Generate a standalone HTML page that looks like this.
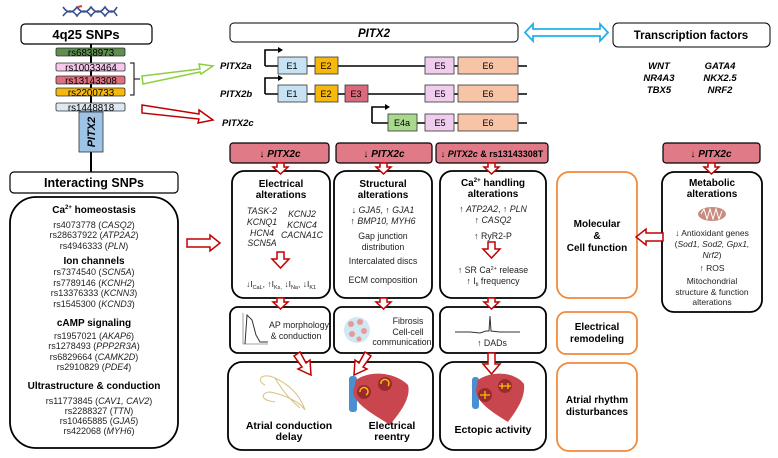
<!DOCTYPE html>
<html><head><meta charset="utf-8"><style>
html,body{margin:0;padding:0;background:#fff;}
svg{display:block;font-family:"Liberation Sans",Arial,sans-serif;}
.b{font-weight:bold}
.i{font-style:italic}
</style></head><body>
<svg width="778" height="458" viewBox="0 0 778 458" xmlns="http://www.w3.org/2000/svg">
<!-- DNA icon -->
<g stroke="#3a4f8f" stroke-width="1.6" fill="none">
<path d="M63,7 Q70,17 77,7 Q84,17 91,7 Q98,17 105,7 Q112,17 117,7"/>
<path d="M63,16 Q70,6 77,16 Q84,6 91,16 Q98,6 105,16 Q112,6 117,16"/>
</g>
<path d="M78,7 L82,6" stroke="#e04020" stroke-width="2"/>

<line x1="91" y1="44" x2="91" y2="172" stroke="#000" stroke-width="2"/>
<rect x="21" y="24" width="131" height="20" rx="4" fill="#fff" stroke="#000" stroke-width="1.2"/>
<text x="86" y="39" font-size="13" class="b" text-anchor="middle">4q25 SNPs</text>

<g font-size="9.8" text-anchor="middle" stroke="#333" stroke-width="0.8">
<rect x="56" y="48" width="69" height="8" rx="1.5" fill="#5e8f4e"/>
<rect x="56" y="63" width="69" height="8" rx="1.5" fill="#f4c9ec"/>
<rect x="56" y="76" width="69" height="8" rx="1.5" fill="#de6f7e"/>
<rect x="56" y="88" width="69" height="8" rx="1.5" fill="#f6b80a"/>
<rect x="56" y="103" width="69" height="8" rx="1.5" fill="#dce8f3"/>
</g>
<g font-size="9.8" text-anchor="middle">
<text x="91" y="56">rs6838973</text>
<text x="91" y="71">rs10033464</text>
<text x="91" y="84">rs13143308</text>
<text x="91" y="96">rs2200733</text>
<text x="91" y="111">rs1448818</text>
</g>
<rect x="79" y="112" width="24" height="40" fill="#9dc3e6" stroke="#333" stroke-width="0.8"/>
<text transform="translate(95,132) rotate(-90)" font-size="11" class="b i" text-anchor="middle">PITX2</text>
<path d="M130,63 L134,63 L134,95 L130,95 M134,79 L140,79" stroke="#000" stroke-width="1" fill="none"/>
<path d="M142,76 L200,69 L199,64 L213,66 L201,74 L200,72 L143,84 Z" fill="#fff" stroke="#8ccf3e" stroke-width="1.5"/>
<path d="M142,105 L199,114 L199,110 L213,120 L198,123 L199,119 L142,113 Z" fill="#fff" stroke="#c00000" stroke-width="1.5"/>

<rect x="10" y="172" width="168" height="21" rx="4" fill="#fff" stroke="#000" stroke-width="1.2"/>
<text x="94" y="187" font-size="12.5" class="b" text-anchor="middle">Interacting SNPs</text>
<rect x="10" y="197" width="168" height="251" rx="26" fill="#fff" stroke="#000" stroke-width="1.8"/>
<g font-size="9" text-anchor="middle" fill="#222">
<text x="94" y="213" class="b" font-size="10" fill="#000">Ca<tspan font-size="6" dy="-4">2+</tspan><tspan dy="4"> homeostasis</tspan></text>
<text x="94" y="228">rs4073778 (<tspan class="i">CASQ2</tspan>)</text>
<text x="94" y="238">rs28637922 (<tspan class="i">ATP2A2</tspan>)</text>
<text x="94" y="249">rs4946333 (<tspan class="i">PLN</tspan>)</text>
<text x="94" y="264" class="b" font-size="10" fill="#000">Ion channels</text>
<text x="94" y="275">rs7374540 (<tspan class="i">SCN5A</tspan>)</text>
<text x="94" y="286">rs7789146 (<tspan class="i">KCNH2</tspan>)</text>
<text x="94" y="296">rs13376333 (<tspan class="i">KCNN3</tspan>)</text>
<text x="94" y="307">rs1545300 (<tspan class="i">KCND3</tspan>)</text>
<text x="94" y="326" class="b" font-size="10" fill="#000">cAMP signaling</text>
<text x="94" y="339">rs1957021 (<tspan class="i">AKAP6</tspan>)</text>
<text x="94" y="349">rs1278493 (<tspan class="i">PPP2R3A</tspan>)</text>
<text x="94" y="360">rs6829664 (<tspan class="i">CAMK2D</tspan>)</text>
<text x="94" y="370">rs2910829 (<tspan class="i">PDE4</tspan>)</text>
<text x="94" y="389" class="b" font-size="10" fill="#000">Ultrastructure &amp; conduction</text>
<text x="99" y="404">rs11773845 (<tspan class="i">CAV1, CAV2</tspan>)</text>
<text x="99" y="414">rs2288327 (<tspan class="i">TTN</tspan>)</text>
<text x="99" y="424">rs10465885 (<tspan class="i">GJA5</tspan>)</text>
<text x="99" y="434">rs422068 (<tspan class="i">MYH6</tspan>)</text>
</g>
<path d="M187,239 L210,239 L210,235 L220,243 L210,251 L210,247 L187,247 Z" fill="#fff" stroke="#c00000" stroke-width="1.5"/>

<rect x="230" y="23" width="288" height="19" rx="4" fill="#fff" stroke="#000" stroke-width="1"/>
<text x="374" y="37" font-size="11.5" class="b i" text-anchor="middle">PITX2</text>
<path d="M525,32.5 L533,24 L533,29 L600,29 L600,24 L608,32.5 L600,41 L600,36 L533,36 L533,41 Z" fill="#fff" stroke="#1fb0ee" stroke-width="1.8"/>
<rect x="613" y="23" width="157" height="24" rx="5" fill="#fff" stroke="#000" stroke-width="1"/>
<text x="691" y="39" font-size="11.5" class="b" text-anchor="middle">Transcription factors</text>
<g font-size="9.5" class="b i" text-anchor="middle">
<text x="659" y="69">WNT</text><text x="720" y="69">GATA4</text>
<text x="659" y="81">NR4A3</text><text x="720" y="81">NKX2.5</text>
<text x="659" y="93">TBX5</text><text x="720" y="93">NRF2</text>
</g>

<g font-size="9.5" class="b i"><text x="220" y="69">PITX2a</text><text x="220" y="97">PITX2b</text><text x="222" y="126">PITX2c</text></g>
<g stroke="#000" stroke-width="1.6" fill="none">
<line x1="265" y1="66" x2="527" y2="66"/><line x1="265" y1="94" x2="527" y2="94"/><line x1="372" y1="123" x2="527" y2="123"/>
<path d="M265,66 L265,50 L278,50"/><path d="M265,94 L265,78 L278,78"/><path d="M372,123 L372,107 L385,107"/>
</g>
<g fill="#000"><path d="M278,47 L283,50 L278,53Z"/><path d="M278,75 L283,78 L278,81Z"/><path d="M385,104 L390,107 L385,110Z"/></g>
<g stroke="#333" stroke-width="0.8">
<rect x="278" y="57" width="29" height="17" fill="#c6e2f4"/><rect x="315" y="57" width="23" height="17" fill="#f6b80a"/>
<rect x="425" y="57" width="29" height="17" fill="#f0cdee"/><rect x="458" y="57" width="60" height="17" fill="#f7c4a7"/>
<rect x="278" y="85" width="29" height="17" fill="#c6e2f4"/><rect x="315" y="85" width="23" height="17" fill="#f6b80a"/>
<rect x="345" y="85" width="23" height="17" fill="#d9697b"/>
<rect x="425" y="85" width="29" height="17" fill="#f0cdee"/><rect x="458" y="85" width="60" height="17" fill="#f7c4a7"/>
<rect x="388" y="114" width="29" height="17" fill="#a9d98f"/>
<rect x="425" y="114" width="29" height="17" fill="#f0cdee"/><rect x="458" y="114" width="60" height="17" fill="#f7c4a7"/>
</g>
<g font-size="9" text-anchor="middle">
<text x="292" y="69">E1</text><text x="326" y="69">E2</text><text x="440" y="69">E5</text><text x="488" y="69">E6</text>
<text x="292" y="97">E1</text><text x="326" y="97">E2</text><text x="356" y="97">E3</text><text x="440" y="97">E5</text><text x="488" y="97">E6</text>
<text x="402" y="126">E4a</text><text x="440" y="126">E5</text><text x="488" y="126">E6</text>
</g>

<g fill="#e07a86" stroke="#000" stroke-width="1.2">
<rect x="230" y="143" width="99" height="20" rx="3"/><rect x="336" y="143" width="96" height="20" rx="3"/>
<rect x="436" y="143" width="112" height="20" rx="3"/><rect x="663" y="143" width="97" height="20" rx="3"/>
</g>
<g font-size="10" class="b" text-anchor="middle">
<text x="280" y="157">↓ <tspan class="i">PITX2c</tspan></text>
<text x="384" y="157">↓ <tspan class="i">PITX2c</tspan></text>
<text x="492" y="157" font-size="9">↓ <tspan class="i">PITX2c</tspan> &amp; rs13143308T</text>
<text x="711" y="157">↓ <tspan class="i">PITX2c</tspan></text>
</g>

<g fill="#fff" stroke="#000" stroke-width="1.8">
<rect x="232" y="171" width="98" height="127" rx="12"/>
<rect x="334" y="171" width="98" height="127" rx="12"/>
<rect x="440" y="171" width="106" height="127" rx="12"/>
<rect x="662" y="172" width="100" height="140" rx="12"/>
<rect x="230" y="307" width="100" height="46" rx="8"/>
<rect x="334" y="307" width="99" height="46" rx="8"/>
<rect x="440" y="307" width="106" height="46" rx="8"/>
<rect x="228" y="362" width="205" height="88" rx="14"/>
<rect x="440" y="362" width="106" height="88" rx="14"/>
</g>
<g fill="#fff" stroke="#f08a3c" stroke-width="1.8">
<rect x="557" y="172" width="80" height="126" rx="12"/>
<rect x="557" y="312" width="80" height="42" rx="9"/>
<rect x="557" y="363" width="80" height="88" rx="12"/>
</g>
<g font-size="10" class="b" text-anchor="middle">
<text x="597" y="227">Molecular</text><text x="597" y="239">&amp;</text><text x="597" y="251">Cell function</text>
<text x="597" y="330">Electrical</text><text x="597" y="342">remodeling</text>
<text x="597" y="403">Atrial rhythm</text><text x="597" y="415">disturbances</text>
</g>

<g fill="#fff" stroke="#c00000" stroke-width="1.5">
<path d="M277,163 L284,163 L284,167 L288,167 L280.5,174 L273,167 L277,167 Z"/>
<path d="M380,163 L387,163 L387,167 L391,167 L383.5,174 L376,167 L380,167 Z"/>
<path d="M488,163 L495,163 L495,167 L499,167 L491.5,174 L484,167 L488,167 Z"/>
<path d="M708,163 L715,163 L715,167 L719,167 L711.5,174 L704,167 L708,167 Z"/>
<path d="M277,252 L284,252 L284,259 L289,259 L280.5,268 L272,259 L277,259 Z"/>
<path d="M488,242 L495,242 L495,249 L500,249 L491.5,258 L483,249 L488,249 Z"/>
<path d="M277,298 L284,298 L284,302 L288,302 L280.5,309 L273,302 L277,302 Z"/>
<path d="M380,298 L387,298 L387,302 L391,302 L383.5,309 L376,302 L380,302 Z"/>
<path d="M488,298 L495,298 L495,302 L499,302 L491.5,309 L484,302 L488,302 Z"/>
<path d="M294,356 L300,352 L306,363 L310,360 L311,375 L298,369 L302,367 Z"/>
<path d="M365,352 L371,356 L363,367 L367,369 L354,375 L355,360 L359,363 Z"/>
<path d="M488,353 L495,353 L495,364 L500,364 L491.5,374 L483,364 L488,364 Z"/>
<path d="M663,233 L646,233 L646,229 L636,237 L646,245 L646,241 L663,241 Z"/>
</g>

<g font-size="10" class="b" text-anchor="middle">
<text x="281" y="187">Electrical</text><text x="281" y="198">alterations</text>
<text x="383" y="187">Structural</text><text x="383" y="198">alterations</text>
<text x="493" y="186">Ca<tspan font-size="6" dy="-4">2+</tspan><tspan dy="4"> handling</tspan></text><text x="493" y="197">alterations</text>
<text x="712" y="186">Metabolic</text><text x="712" y="197">alterations</text>
</g>
<g font-size="8.8" text-anchor="middle" fill="#222">
<g class="i"><text x="262" y="214">TASK-2</text><text x="262" y="225">KCNQ1</text><text x="262" y="236">HCN4</text><text x="262" y="246">SCN5A</text>
<text x="302" y="217">KCNJ2</text><text x="302" y="228">KCNC4</text><text x="302" y="238">CACNA1C</text></g>
<text x="281" y="287" font-size="8.5">↓I<tspan font-size="5.5" dy="2">CaL</tspan><tspan dy="-2">, ↑I</tspan><tspan font-size="5.5" dy="2">Ks,</tspan><tspan dy="-2"> ↓I</tspan><tspan font-size="5.5" dy="2">Na</tspan><tspan dy="-2">, ↓I</tspan><tspan font-size="5.5" dy="2">K1</tspan></text>
<text x="383" y="213">↓ <tspan class="i">GJA5</tspan>, ↑ <tspan class="i">GJA1</tspan></text>
<text x="383" y="224">↑ <tspan class="i">BMP10, MYH6</tspan></text>
<text x="383" y="239">Gap junction</text><text x="383" y="250">distribution</text>
<text x="383" y="264">Intercalated  discs</text><text x="383" y="283">ECM composition</text>
<text x="493" y="212">↑ <tspan class="i">ATP2A2</tspan>, ↑ <tspan class="i">PLN</tspan></text>
<text x="493" y="223">↑ <tspan class="i">CASQ2</tspan></text>
<text x="493" y="239">↑ RyR2-P</text>
<text x="493" y="273">↑ SR Ca<tspan font-size="5.5" dy="-3">2+</tspan><tspan dy="3"> release</tspan></text>
<text x="493" y="284">↑ I<tspan font-size="5.5" dy="2">ti</tspan><tspan dy="-2"> frequency</tspan></text>
<text x="712" y="236" font-size="8.5">↓ Antioxidant genes</text>
<text x="712" y="247" font-size="8.5">(<tspan class="i">Sod1, Sod2, Gpx1,</tspan></text>
<text x="712" y="258" font-size="8.5" class="i">Nrf2<tspan font-style="normal">)</tspan></text>
<text x="712" y="271" font-size="8.5">↑ ROS</text>
<text x="712" y="284" font-size="8.5">Mitochondrial</text>
<text x="712" y="295" font-size="8.5">structure &amp; function</text>
<text x="712" y="305" font-size="8.5">alterations</text>
<text x="299" y="328">AP morphology</text><text x="296" y="339">&amp; conduction</text>
<text x="408" y="324">Fibrosis</text><text x="408" y="335">Cell-cell</text><text x="402" y="345">communication</text>
<text x="492" y="346">↑ DADs</text>
</g>
<ellipse cx="712" cy="214" rx="14" ry="7" fill="#c98a80"/>
<path d="M701,214 L704,209 L707,219 L710,209 L713,219 L716,209 L719,219 L722,211" stroke="#fff" stroke-width="1" fill="none"/>
<path d="M243,313 L243,344 M243,344 L268,344" stroke="#888" stroke-width="0.8" fill="none"/>
<path d="M245,344 L247,315 L252,320 L256,335 L260,342 L268,342" stroke="#333" stroke-width="1" fill="none"/>
<circle cx="357" cy="330" r="13" fill="#cfe8f2"/>
<g fill="#e69a9a"><circle cx="351" cy="324" r="3"/><circle cx="360" cy="322" r="3"/><circle cx="364" cy="331" r="3"/><circle cx="352" cy="334" r="3"/><circle cx="359" cy="339" r="2.5"/></g>
<path d="M455,332 L470,332 L480,333 L486,331 L489,331 L490,316 L491,331 L500,332 L520,332" stroke="#333" stroke-width="1" fill="none"/>
<path d="M265,385 C255,380 262,372 275,378 C290,385 300,395 305,410 C300,402 285,395 270,392 C262,392 258,400 275,402 M275,378 C282,390 290,400 300,408" stroke="#d8c080" stroke-width="1" fill="none"/>
<rect x="349" y="376" width="8" height="36" rx="3" fill="#4a90d0"/>
<path d="M356,380 C370,370 395,372 408,385 C412,400 395,418 390,425 C375,415 355,405 353,392 Z" fill="#c9464e"/>
<circle cx="364" cy="392" r="7" fill="#9b2a30"/><circle cx="385" cy="384" r="7" fill="#9b2a30"/>
<path d="M360,392 A4,4 0 1 1 366,395 M381,384 A4,4 0 1 1 388,386" stroke="#f5c000" stroke-width="1.5" fill="none"/>
<rect x="472" y="377" width="7" height="32" rx="3" fill="#4a90d0"/>
<path d="M478,380 C492,370 515,372 524,384 C526,400 512,416 508,422 C492,412 476,402 476,390 Z" fill="#c9464e"/>
<circle cx="485" cy="395" r="7" fill="#9b2a30"/><circle cx="505" cy="386" r="7" fill="#9b2a30"/>
<path d="M480,395 L490,395 M485,391 L485,399 M499,386 L511,386 M502,383 L502,389 M508,383 L508,389" stroke="#f5c000" stroke-width="1.3"/>
<g font-size="10.5" class="b" text-anchor="middle">
<text x="289" y="429">Atrial conduction</text><text x="289" y="440">delay</text>
<text x="392" y="429">Electrical</text><text x="392" y="440">reentry</text>
<text x="493" y="433">Ectopic activity</text>
</g>
</svg>
</body></html>
